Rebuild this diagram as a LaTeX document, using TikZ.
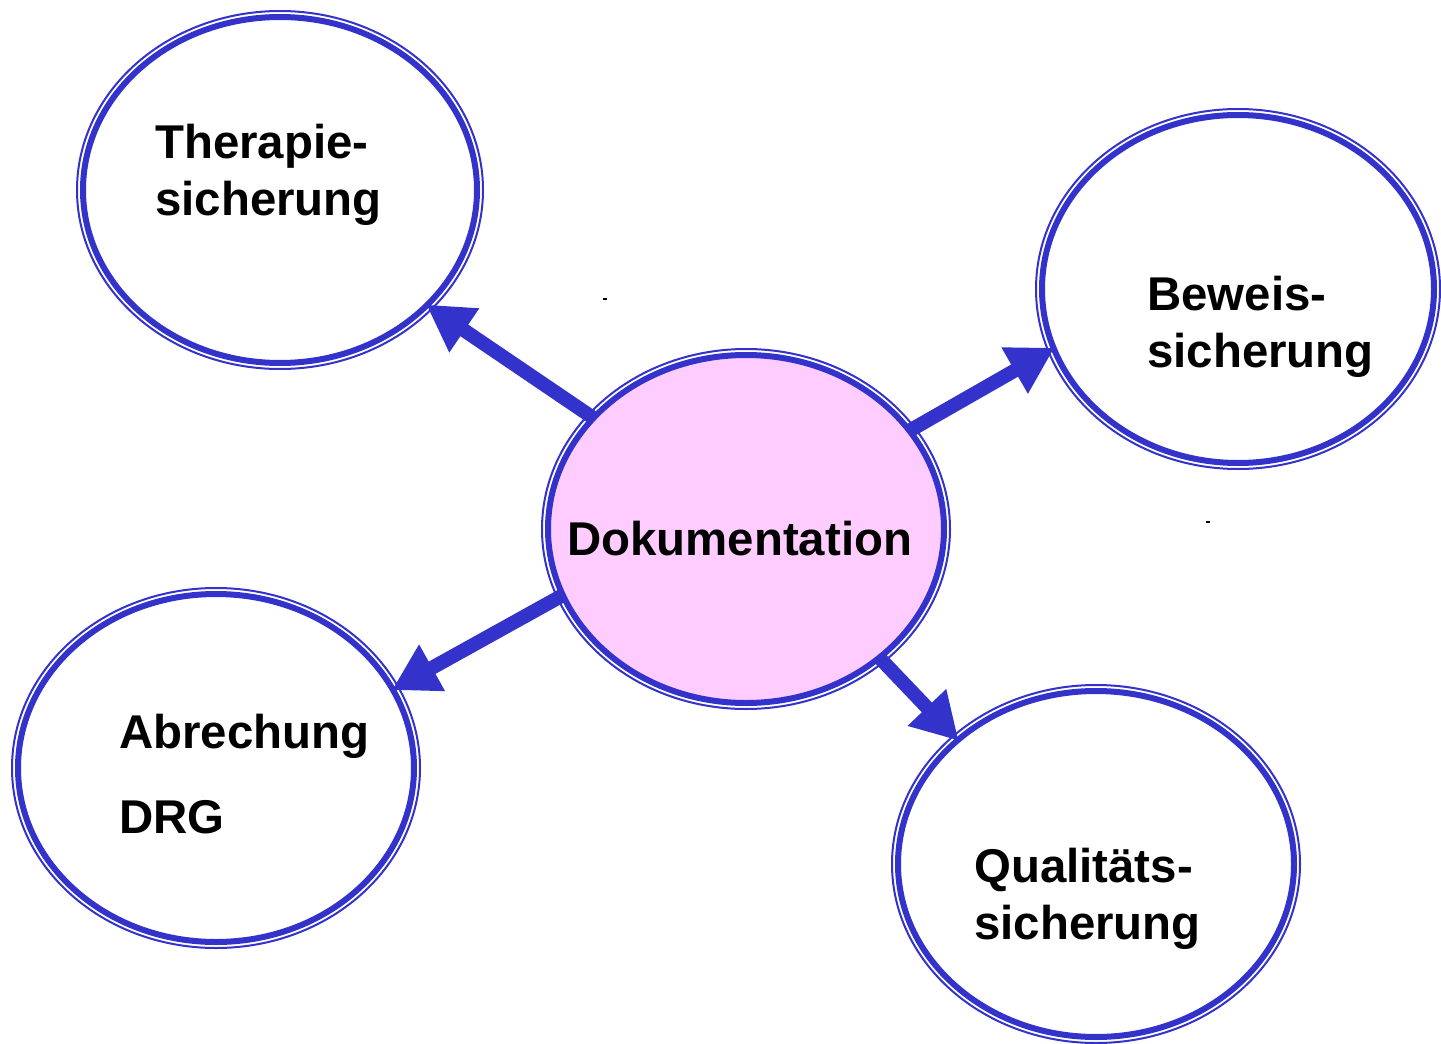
\documentclass[tikz,border=0pt]{standalone}
\usepackage{fontspec}
\setmainfont{Liberation Sans}
\usetikzlibrary{shapes.geometric, arrows.meta}
\definecolor{randblau}{HTML}{3333CC}
\definecolor{rosa}{HTML}{FFCCFF}
\begin{document}
\begin{tikzpicture}[x=1pt, y=-1pt,
    bubble/.style={ellipse, draw=randblau, line width=6pt, fill=white},
    aussen/.style={draw=randblau, line width=2pt},
    lbl/.style={font=\fontsize{47.4}{57}\selectfont\bfseries, inner sep=0pt, anchor=base west, text width=320pt, align=left},
    pfeil/.style={draw=randblau, line width=14pt, -{Triangle[length=46pt, width=50pt]}, shorten >=-4pt, shorten <=-3pt}]
    \useasboundingbox (0,0) rectangle (1441,1044);

    % Ellipsen
    \node[bubble, minimum width=394pt, minimum height=346pt] (ther) at (280,190) {};
    \node[bubble, minimum width=392pt, minimum height=348pt] (bew) at (1238,289) {};
    \node[bubble, fill=rosa, minimum width=396pt, minimum height=348pt] (doku) at (746,529) {};
    \node[bubble, minimum width=396pt, minimum height=348pt] (abr) at (216,768) {};
    \node[bubble, minimum width=396pt, minimum height=346pt] (qual) at (1096,864) {};
    \draw[aussen] (ther.center) ellipse (203 and 179);
    \draw[aussen] (bew.center) ellipse (202 and 180);
    \draw[aussen] (doku.center) ellipse (204 and 180);
    \draw[aussen] (abr.center) ellipse (204 and 180);
    \draw[aussen] (qual.center) ellipse (204 and 179);

    % Texte
    \node[lbl] (therT) at (155,158) {Therapie-\\sicherung};
    \node[lbl] (bewT) at (1147,310) {Beweis-\\sicherung};
    \node[lbl] (dokuT) at (567,555) {Dokumentation};
    \node[lbl] (abrT) at (119,748) {Abrechung\\[28pt]DRG};
    \node[lbl] (qualT) at (974,882) {Qualitäts-\\sicherung};

    % Pfeile
    \draw[pfeil] (doku.144.7) -- (ther.-38);
    \draw[pfeil] (doku.31.1) -- (bew.198.6);
    \draw[pfeil] (doku.200.3) -- (abr.24.1);
    \draw[pfeil] (doku.-44.4) -- (qual.138.1);

    \fill (603,298) rectangle (607,300);
    \fill (1206,521) rectangle (1210,523);
\end{tikzpicture}
\end{document}
